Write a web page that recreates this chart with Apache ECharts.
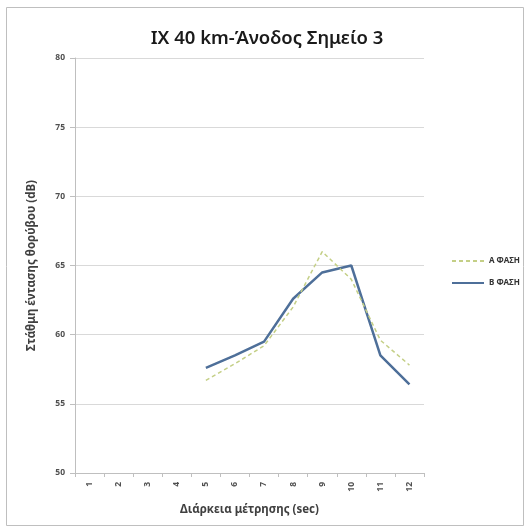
<!DOCTYPE html>
<html>
<head>
<meta charset="utf-8">
<script src="https://cdn.jsdelivr.net/npm/echarts@6/dist/echarts.min.js"></script>
<style>
  html, body { margin: 0; padding: 0; background: #ffffff; }
  #chart { width: 530px; height: 532px; }
</style>
</head>
<body>
<div id="chart"></div>
<script>
// Measurement seconds along the x axis
const seconds = ['1', '2', '3', '4', '5', '6', '7', '8', '9', '10', '11', '12'];
// Noise level per phase (dB); no readings for the first four seconds
const phaseA = [null, null, null, null, 56.7, 57.9, 59.2, 62.0, 66.0, 64.0, 59.6, 57.8];
const phaseB = [null, null, null, null, 57.6, 58.5, 59.5, 62.6, 64.5, 65.0, 58.5, 56.4];
const seriesNames = ['Α ΦΑΣΗ', 'Β ΦΑΣΗ'];

const chart = echarts.init(document.getElementById('chart'), null, { renderer: 'canvas' });
const font = '"Noto Sans", "Open Sans", sans-serif';

chart.setOption({
  backgroundColor: '#ffffff',
  animation: false,
  graphic: [{
    type: 'rect',
    shape: { x: 6.5, y: 7.5, width: 517, height: 518 },
    style: { fill: 'none', stroke: '#bfbfbf', lineWidth: 1 },
    z: -1
  }],
  title: {
    text: 'ΙΧ 40 km-Άνοδος Σημείο 3',
    left: 262,
    textAlign: 'center',
    top: 24,
    textStyle: { fontFamily: font, fontSize: 18.5, fontWeight: 600, color: '#1a1a1a' }
  },
  legend: {
    orient: 'vertical',
    left: 446,
    top: 252,
    itemWidth: 32,
    itemHeight: 10,
    itemGap: 14,
    itemStyle: { opacity: 0 },
    textStyle: { fontFamily: font, fontSize: 8, fontWeight: 'bold', color: '#333333' },
    data: seriesNames
  },
  grid: { left: 75, right: 106, top: 58, bottom: 59, containLabel: false },
  xAxis: {
    type: 'category',
    data: seconds,
    boundaryGap: true,
    name: 'Διάρκεια μέτρησης (sec)',
    nameLocation: 'middle',
    nameGap: 31,
    nameTextStyle: { fontFamily: font, fontSize: 11.5, fontWeight: 'bold', color: '#404040' },
    axisLine: { lineStyle: { color: '#bfbfbf' } },
    axisTick: { show: true, length: 4, lineStyle: { color: '#bfbfbf' } },
    axisLabel: { rotate: 90, fontFamily: font, fontSize: 8.5, fontWeight: 'bold', color: '#505050', margin: 9 },
    splitLine: { show: false }
  },
  yAxis: {
    type: 'value',
    min: 50,
    max: 80,
    interval: 5,
    name: 'Στάθμη έντασης θορύβου (dB)',
    nameLocation: 'middle',
    nameGap: 37,
    nameTextStyle: { fontFamily: font, fontSize: 11.5, fontWeight: 'bold', color: '#404040' },
    axisLine: { show: true, lineStyle: { color: '#bfbfbf' } },
    axisTick: { show: true, length: 5, lineStyle: { color: '#bfbfbf' } },
    axisLabel: { fontFamily: font, fontSize: 8.5, fontWeight: 'bold', color: '#505050', margin: 10 },
    splitLine: { show: true, lineStyle: { color: '#d9d9d9', width: 1 } }
  },
  series: [
    {
      name: seriesNames[0],
      type: 'line',
      data: phaseA,
      symbol: 'none',
      connectNulls: false,
      lineStyle: { color: '#c4cf86', width: 1.5, type: [4, 3] },
      itemStyle: { color: '#c4cf86' },
      z: 3
    },
    {
      name: seriesNames[1],
      type: 'line',
      data: phaseB,
      symbol: 'none',
      connectNulls: false,
      lineStyle: { color: '#4e6f99', width: 2.5 },
      itemStyle: { color: '#4e6f99' },
      z: 2
    }
  ]
});
</script>
</body>
</html>
